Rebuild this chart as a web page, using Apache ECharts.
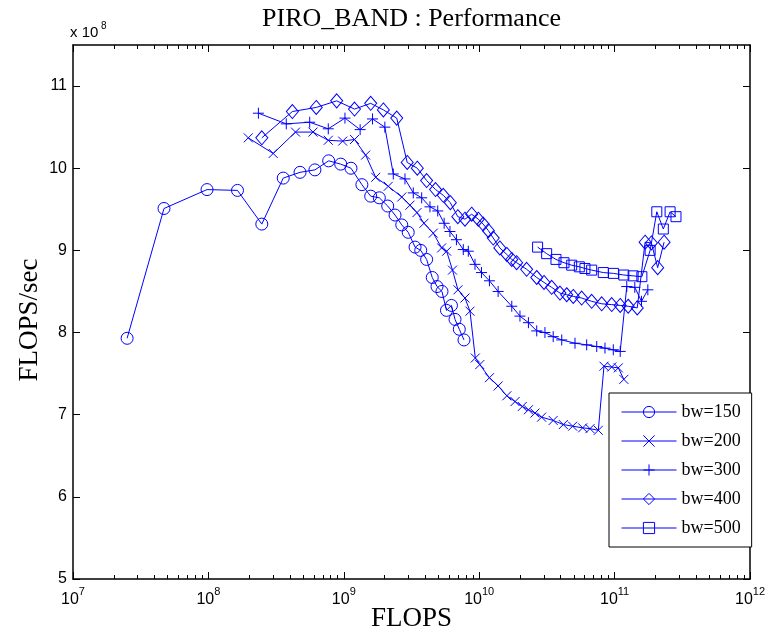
<!DOCTYPE html>
<html>
<head>
<meta charset="utf-8">
<script src="https://cdn.jsdelivr.net/npm/echarts@6/dist/echarts.min.js"></script>
<style>
  html, body { margin: 0; padding: 0; background: #fff; }
  #chart { width: 769px; height: 641px; }
</style>
</head>
<body>
<div id="chart"></div>
<script>
// bw=150 (circles)
var flops150 = [2.51e7, 4.70e7, 9.77e7, 1.64e8, 2.48e8, 3.57e8, 4.75e8, 6.12e8, 7.73e8, 9.49e8,
  1.13e9, 1.36e9, 1.58e9, 1.83e9, 2.11e9, 2.39e9, 2.68e9, 2.99e9, 3.36e9, 3.70e9,
  4.09e9, 4.50e9, 4.88e9, 5.31e9, 5.73e9, 6.24e9, 6.63e9, 7.13e9, 7.72e9]
var perf150 = [7.93, 9.51, 9.74, 9.73, 9.32, 9.88, 9.95, 9.98, 10.09, 10.05,
  10.00, 9.80, 9.66, 9.64, 9.54, 9.43, 9.31, 9.22, 9.04, 9.00,
  8.89, 8.67, 8.56, 8.50, 8.27, 8.33, 8.16, 8.04, 7.91]

// bw=200 (x)
var flops200 = [1.97e8, 3.01e8, 4.40e8, 5.92e8, 7.68e8, 9.81e8, 1.20e9, 1.45e9, 1.72e9, 2.13e9,
  2.68e9, 3.08e9, 3.47e9, 3.91e9, 4.58e9, 5.28e9, 5.75e9, 6.35e9, 6.97e9, 7.85e9,
  8.55e9, 9.36e9, 1.01e10, 1.19e10, 1.38e10, 1.60e10, 1.84e10, 2.08e10, 2.31e10, 2.58e10,
  2.89e10, 3.52e10, 4.18e10, 4.90e10, 5.81e10, 6.58e10, 7.58e10, 8.35e10, 9.52e10, 1.065e11, 1.17e11]
var perf200 = [10.37, 10.18, 10.44, 10.44, 10.34, 10.33, 10.35, 10.16, 9.89, 9.78,
  9.65, 9.55, 9.46, 9.33, 9.21, 9.03, 8.99, 8.76, 8.52, 8.42,
  8.26, 7.69, 7.61, 7.45, 7.35, 7.23, 7.16, 7.10, 7.06, 7.02,
  6.97, 6.93, 6.88, 6.86, 6.84, 6.83, 6.81, 7.59, 7.58, 7.57, 7.43]

// bw=300 (+)
var flops300 = [2.34e8, 3.76e8, 5.60e8, 7.68e8, 1.02e9, 1.32e9, 1.63e9, 2.01e9, 2.32e9, 2.83e9,
  3.26e9, 3.76e9, 4.33e9, 4.94e9, 5.51e9, 6.08e9, 6.79e9, 7.63e9, 8.31e9, 9.31e9,
  1.04e10, 1.19e10, 1.38e10, 1.74e10, 2.00e10, 2.31e10, 2.66e10, 3.06e10, 3.52e10, 4.07e10,
  5.10e10, 6.22e10, 7.38e10, 8.49e10, 9.78e10, 1.10e11, 1.23e11, 1.41e11, 1.58e11, 1.76e11]
var perf300 = [10.67, 10.54, 10.56, 10.48, 10.61, 10.47, 10.60, 10.50, 9.93, 9.87,
  9.70, 9.64, 9.53, 9.48, 9.33, 9.23, 9.13, 9.01, 8.99, 8.83,
  8.73, 8.63, 8.50, 8.32, 8.20, 8.12, 8.02, 8.00, 7.95, 7.91,
  7.87, 7.85, 7.83, 7.81, 7.79, 7.77, 8.56, 8.55, 8.38, 8.52]

// bw=400 (diamonds)
var flops400 = [2.48e8, 4.17e8, 6.26e8, 8.86e8, 1.20e9, 1.58e9, 1.96e9, 2.46e9, 2.94e9, 3.49e9,
  4.09e9, 4.76e9, 5.43e9, 6.12e9, 6.95e9, 7.85e9, 8.80e9, 9.85e9, 1.07e10, 1.17e10,
  1.27e10, 1.42e10, 1.60e10, 1.74e10, 1.89e10, 2.24e10, 2.66e10, 3.01e10, 3.43e10, 3.95e10,
  4.43e10, 4.95e10, 5.71e10, 6.77e10, 8.03e10, 9.52e10, 1.10e11, 1.26e11, 1.47e11, 1.68e11,
  1.87e11, 2.08e11, 2.32e11]
var perf400 = [10.37, 10.69, 10.74, 10.82, 10.72, 10.79, 10.71, 10.61, 10.07, 10.00,
  9.85, 9.74, 9.67, 9.58, 9.41, 9.38, 9.44, 9.38, 9.32, 9.24,
  9.15, 9.03, 8.95, 8.89, 8.85, 8.77, 8.67, 8.61, 8.55, 8.48,
  8.46, 8.44, 8.42, 8.38, 8.35, 8.34, 8.33, 8.32, 8.30, 9.10,
  9.09, 8.79, 9.10]

// bw=500 (squares)
var flops500 = [2.70e10, 3.15e10, 3.69e10, 4.23e10, 4.82e10, 5.49e10, 6.04e10, 6.77e10, 8.25e10, 9.81e10,
  1.17e11, 1.37e11, 1.59e11, 1.83e11, 2.05e11, 2.29e11, 2.57e11, 2.84e11]
var perf500 = [9.04, 8.96, 8.89, 8.85, 8.82, 8.80, 8.78, 8.76, 8.73, 8.72,
  8.70, 8.69, 8.68, 9.00, 9.47, 9.26, 9.47, 9.41]

var seriesNames = ['bw=150', 'bw=200', 'bw=300', 'bw=400', 'bw=500']
var yTicks = [5, 6, 7, 8, 9, 10, 11]
var xDecades = [7, 8, 9, 10, 11, 12]

var BLUE = '#0000ff'
var SERIF = '"Liberation Serif", "Times New Roman", serif'
var SANS = '"Liberation Sans", Arial, sans-serif'

// log10 positions of the 2..9 minor ticks of each decade
var minorTicks = []
xDecades.slice(0, -1).forEach(function (d) {
  for (var k = 2; k <= 9; k++) minorTicks.push(d + Math.log10(k))
})

function pairs (xs, ys) {
  return xs.map(function (x, i) { return [x, ys[i]] })
}

var allData = [
  pairs(flops150, perf150),
  pairs(flops200, perf200),
  pairs(flops300, perf300),
  pairs(flops400, perf400),
  pairs(flops500, perf500)
]
var symbols = ['circle', 'path://M0,0L10,10M0,10L10,0', 'path://M5,0L5,10M0,5L10,5', 'diamond', 'rect']
var symbolSizes = [12, 9, 11, [12, 14], 10]

var series = seriesNames.map(function (name, i) {
  return {
    name: name,
    type: 'line',
    xAxisIndex: 0,
    yAxisIndex: 0,
    data: allData[i],
    symbol: symbols[i],
    symbolSize: symbolSizes[i],
    showSymbol: true,
    lineStyle: { color: BLUE, width: 1 },
    itemStyle: { color: 'none', borderColor: BLUE, borderWidth: 1 },
    emphasis: { disabled: true },
    z: 3
  }
})

var gridRect = { left: 73, right: 19, top: 45, bottom: 62 }
var boxLine = { show: true, onZero: false, lineStyle: { color: '#000', width: 1.5 } }

var chart = echarts.init(document.getElementById('chart'), null, { renderer: 'canvas' })
chart.setOption({
  animation: false,
  backgroundColor: '#fff',
  grid: [
    Object.assign({ containLabel: false }, gridRect),
    Object.assign({ containLabel: false }, gridRect)
  ],
  xAxis: [
    {
      type: 'log', logBase: 10, min: 1e7, max: 1e12, gridIndex: 0, position: 'bottom',
      axisLine: boxLine,
      axisTick: { inside: true, length: 7, lineStyle: { color: '#000', width: 1 } },
      splitLine: { show: false },
      axisLabel: {
        margin: 7,
        color: '#000',
        formatter: function (v) {
          return '{b|10}{s|' + Math.round(Math.log10(v)) + '}'
        },
        rich: {
          b: { fontSize: 16, fontFamily: SANS, color: '#000', lineHeight: 28 },
          s: { fontSize: 11, fontFamily: SANS, color: '#000', lineHeight: 12, verticalAlign: 'top' }
        }
      }
    },
    {
      type: 'log', logBase: 10, min: 1e7, max: 1e12, gridIndex: 0, position: 'top',
      axisLine: boxLine,
      axisTick: { inside: true, length: 7, lineStyle: { color: '#000', width: 1 } },
      splitLine: { show: false },
      axisLabel: { show: false }
    },
    {
      type: 'value', min: 7, max: 12, gridIndex: 1, position: 'bottom',
      axisLine: { show: false },
      axisTick: { inside: true, length: 4, customValues: minorTicks, lineStyle: { color: '#000', width: 1 } },
      splitLine: { show: false },
      axisLabel: { show: false }
    },
    {
      type: 'value', min: 7, max: 12, gridIndex: 1, position: 'top',
      axisLine: { show: false },
      axisTick: { inside: true, length: 4, customValues: minorTicks, lineStyle: { color: '#000', width: 1 } },
      splitLine: { show: false },
      axisLabel: { show: false }
    }
  ],
  yAxis: [
    {
      type: 'value', min: 5, max: 11.5, interval: 1, gridIndex: 0, position: 'left',
      axisLine: boxLine,
      axisTick: { inside: true, length: 7, customValues: yTicks, lineStyle: { color: '#000', width: 1 } },
      splitLine: { show: false },
      axisLabel: {
        margin: 6, color: '#000', fontSize: 16, fontFamily: SANS,
        customValues: yTicks
      }
    },
    {
      type: 'value', min: 5, max: 11.5, interval: 1, gridIndex: 0, position: 'right',
      axisLine: boxLine,
      axisTick: { inside: true, length: 7, customValues: yTicks, lineStyle: { color: '#000', width: 1 } },
      splitLine: { show: false },
      axisLabel: { show: false }
    },
    {
      type: 'value', min: 5, max: 11.5, gridIndex: 1, show: false
    }
  ],
  legend: {
    data: seriesNames,
    orient: 'vertical',
    left: 609,
    top: 393,
    padding: [10, 11, 10, 12],
    itemGap: 11,
    itemWidth: 55,
    itemHeight: 14,
    backgroundColor: '#fff',
    borderColor: '#000',
    borderWidth: 1,
    borderRadius: 0,
    selectedMode: false,
    lineStyle: { width: 1 },
    itemStyle: { borderWidth: 1 },
    textStyle: { fontFamily: SERIF, fontSize: 18, color: '#000' }
  },
  graphic: [
    {
      type: 'text', x: 411.5, y: 19, z: 10,
      style: { text: 'PIRO_BAND : Performance', fontFamily: SERIF, fontSize: 26, fill: '#000', align: 'center', verticalAlign: 'middle' }
    },
    {
      type: 'text', x: 70, y: 33, z: 10,
      style: { text: 'x 10', fontFamily: SANS, fontSize: 15, fill: '#000', align: 'left', verticalAlign: 'middle' }
    },
    {
      type: 'text', x: 101, y: 26, z: 10,
      style: { text: '8', fontFamily: SANS, fontSize: 10, fill: '#000', align: 'left', verticalAlign: 'middle' }
    },
    {
      type: 'text', x: 411.5, y: 619, z: 10,
      style: { text: 'FLOPS', fontFamily: SERIF, fontSize: 27, fill: '#000', align: 'center', verticalAlign: 'middle' }
    },
    {
      type: 'text', x: 30, y: 320, rotation: Math.PI / 2, z: 10,
      style: { text: 'FLOPS/sec', fontFamily: SERIF, fontSize: 27, fill: '#000', align: 'center', verticalAlign: 'middle' }
    }
  ],
  series: series
})
</script>
</body>
</html>
